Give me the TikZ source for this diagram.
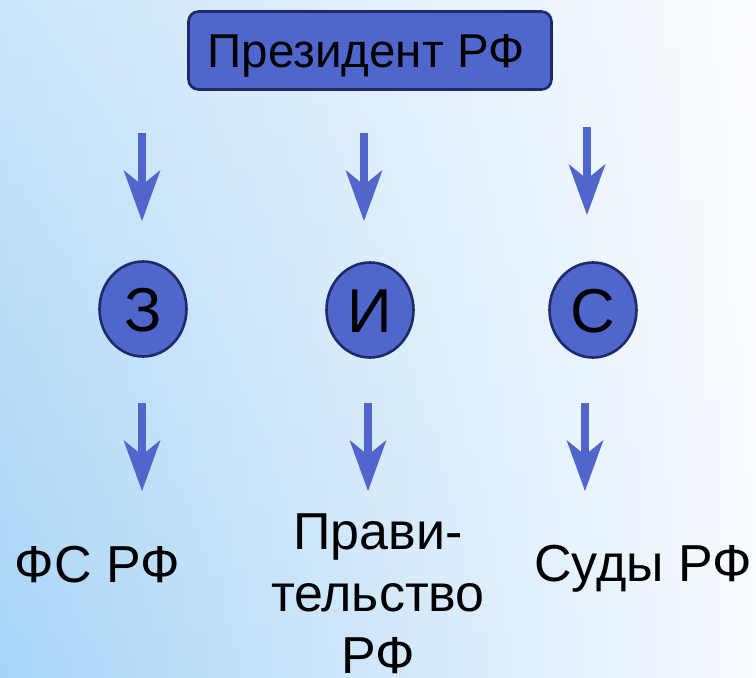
\documentclass[tikz,border=0pt]{standalone}
\usepackage{fontspec}
\setmainfont{Liberation Sans}
\usetikzlibrary{arrows.meta,shapes.geometric,fadings}
\definecolor{nodefill}{RGB}{79,102,204}
\definecolor{nodeborder}{RGB}{30,42,106}
\definecolor{arrowcol}{RGB}{80,102,204}
\definecolor{bgL}{RGB}{168,213,247}
\definecolor{bgM}{RGB}{208,232,251}
\definecolor{bgR}{RGB}{248,251,255}
\tikzfading[name=fadetop, top color=transparent!60, bottom color=transparent!100]
\tikzset{
  presbox/.style={draw=nodeborder, line width=2.6pt, fill=nodefill, rounded corners=10pt,
    minimum width=363pt, minimum height=78pt, inner sep=0pt,
    font=\fontsize{47.5pt}{50pt}\selectfont, text height=34pt, text depth=0pt},
  branch/.style={ellipse, draw=nodeborder, line width=2.6pt, fill=nodefill,
    minimum width=87pt, minimum height=95pt, inner sep=0pt,
    font=\fontsize{62pt}{66pt}\selectfont, text height=44pt, text depth=0pt},
  organ/.style={inner sep=0pt, font=\fontsize{52pt}{62pt}\selectfont},
  downarrow/.style={draw=arrowcol, line width=7.5pt,
    -{Stealth[length=51pt, width=37pt, inset=15pt, line width=0pt, fill=arrowcol]}}
}
\begin{document}
\begin{tikzpicture}[x=1pt, y=-1pt]
\useasboundingbox (0,0) rectangle (756,678);
\shade[left color=bgL, middle color=bgM, right color=bgR] (0,0) rectangle (756,678);
\fill[white, path fading=fadetop] (0,0) rectangle (756,678);

\node[presbox] (pres) at (370,50.5) {Президент РФ\hspace*{8pt}};

\node[branch] (z) at (143,309) {З};
\node[branch] (i) at (370,310) {И};
\node[branch] (s) at (593,310) {С};

\node[organ, anchor=base] (fs) at (97.5,582) {ФС РФ};
\node[organ, anchor=north, align=center] (gov) at (378,514) {Прави-\\тельство\\РФ};
\node[organ, anchor=base] (sud) at (643,581) {Суды РФ};

\coordinate (a1s) at (142,133);
\coordinate (a1e) at (142,221);
\coordinate (a2s) at (364,133);
\coordinate (a2e) at (364,221);
\coordinate (a3s) at (587,127);
\coordinate (a3e) at (587,215);
\coordinate (b1s) at (142,403);
\coordinate (b1e) at (142,491);
\coordinate (b2s) at (368,403);
\coordinate (b2e) at (368,491);
\coordinate (b3s) at (585,403);
\coordinate (b3e) at (585,491);

\draw[downarrow] (a1s) -- (a1e);
\draw[downarrow] (a2s) -- (a2e);
\draw[downarrow] (a3s) -- (a3e);
\draw[downarrow] (b1s) -- (b1e);
\draw[downarrow] (b2s) -- (b2e);
\draw[downarrow] (b3s) -- (b3e);
\end{tikzpicture}
\end{document}
